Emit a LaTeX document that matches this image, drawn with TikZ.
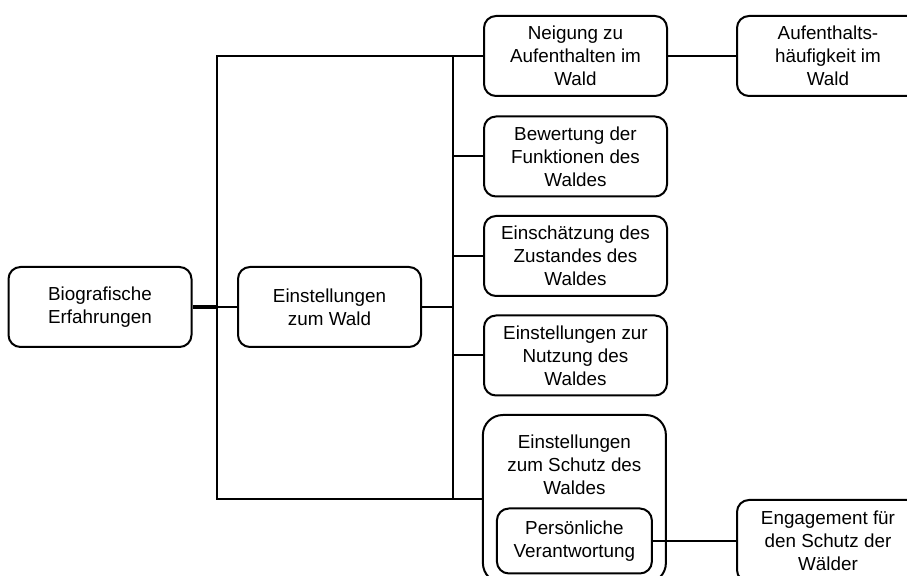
\documentclass[tikz,border=0pt]{standalone}
\usepackage{fontspec}
\setmainfont{Liberation Sans}
\usetikzlibrary{positioning}

\begin{document}
\begin{tikzpicture}[line width=0.05cm,
    box/.style={draw, rounded corners=0.3cm, minimum width=4.575cm, minimum height=2cm, align=center, font=\fontsize{13.4}{16.4}\selectfont},
    plain/.style={align=center, font=\fontsize{13.4}{16.4}\selectfont}]
        \clip (0,0) rectangle (22.675,14.4);
        \node[box] (bio) at (2.5,6.725) {Biografische\\Erfahrungen};
        \node[box] (wald) at (8.2375,6.725) {Einstellungen\\zum Wald};
        \node[box] (neigung) at (14.3875,13.0) {Neigung zu\\Aufenthalten im\\Wald};
        \node[box] (bewertung) at (14.3875,10.4875) {Bewertung der\\Funktionen des\\Waldes};
        \node[box] (zustand) at (14.3875,8.0) {Einschätzung des\\Zustandes des\\Waldes};
        \node[box] (nutzung) at (14.3875,5.5125) {Einstellungen zur\\Nutzung des\\Waldes};
        \node[box, rounded corners=0.5cm, minimum height=4.2cm] (schutz) at (14.36,1.925) {};
        \node[plain] (schutztext) at (14.36,2.775) {Einstellungen\\zum Schutz des\\Waldes};
        \node[box, minimum width=3.875cm, minimum height=1.625cm] (verantw) at (14.36,0.875) {Persönliche\\Verantwortung};
        \node[box, minimum width=4.55cm] (aufenthalt) at (20.7,13.0) {Aufenthalts-\\häufigkeit im\\Wald};
        \node[box, minimum width=4.55cm, minimum height=2.05cm] (engagement) at (20.7,0.875) {Engagement für\\den Schutz der\\Wälder};
        \coordinate (bus1top) at (5.425,13.0);
        \coordinate (bus1bot) at (5.425,1.925);
        \coordinate (bus2top) at (11.325,13.0);
        \coordinate (bus2bot) at (11.325,1.925);
        \draw (neigung.west) -- (bus1top) -- (bus1bot) -- (schutz.west);
        \draw (bus2top) -- (bus2bot);
        \draw[line width=0.1cm] (bio.east) -- (bio.east -| bus1top);
        \draw (bio.east -| bus1top) -- (wald.west);
        \draw (wald.east) -- (wald.east -| bus2top);
        \foreach \n in {bewertung,zustand,nutzung}
            \draw (\n.west) -- (\n.west -| bus2top);
        \draw (neigung) -- (aufenthalt);
        \draw (verantw) -- (engagement);
    \end{tikzpicture}
\end{document}
